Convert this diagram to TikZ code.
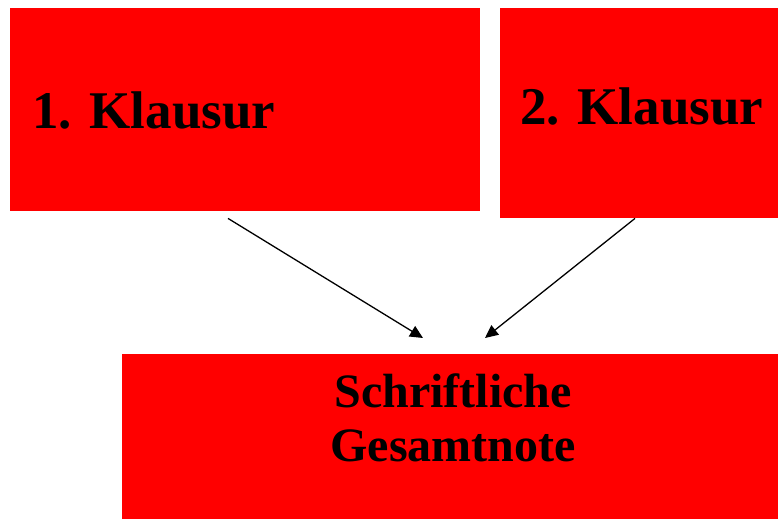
\documentclass[tikz,border=0pt]{standalone}
\usepackage{fontspec}
\setmainfont{Liberation Serif}
\usetikzlibrary{arrows.meta,calc}

\tikzset{
  redbox/.style={fill=red, draw=none, inner sep=0pt, anchor=north west},
  bigtext/.style={font=\bfseries\fontsize{53}{60}\selectfont, inner sep=0pt},
  midtext/.style={font=\bfseries\fontsize{48}{54}\selectfont, inner sep=0pt, align=center},
  pfeil/.style={line width=1.3pt, -{Triangle[length=13pt,width=12pt]}},
}

\begin{document}
\begin{tikzpicture}[x=1pt, y=-1pt]
\useasboundingbox (0,0) rectangle (778,519);

% the three boxes
\node [redbox, minimum width=470pt, minimum height=203pt] (klausur1) at (10,8) {};
\node [redbox, minimum width=278pt, minimum height=210pt] (klausur2) at (500,8) {};
\node [redbox, minimum width=656pt, minimum height=165pt] (gesamt) at (122,354) {};

% labels
\node [bigtext, anchor=base west] (text1) at ($(klausur1.north west)+(22,120)$) {1. Klausur};
\node [bigtext, anchor=base west] (text2) at ($(klausur2.north west)+(20,116)$) {2. Klausur};
\node [midtext] (text3) at ($(gesamt.north west)+(331,64)$) {Schriftliche\\Gesamtnote};

% arrows
\coordinate (von1) at ($(klausur1.south west)+(218,7)$);
\coordinate (nach1) at ($(gesamt.north west)+(301,-16)$);
\coordinate (von2) at ($(klausur2.south west)+(135,0)$);
\coordinate (nach2) at ($(gesamt.north west)+(363,-16)$);
\draw [pfeil] (von1) -- (nach1);
\draw [pfeil] (von2) -- (nach2);
\end{tikzpicture}
\end{document}
